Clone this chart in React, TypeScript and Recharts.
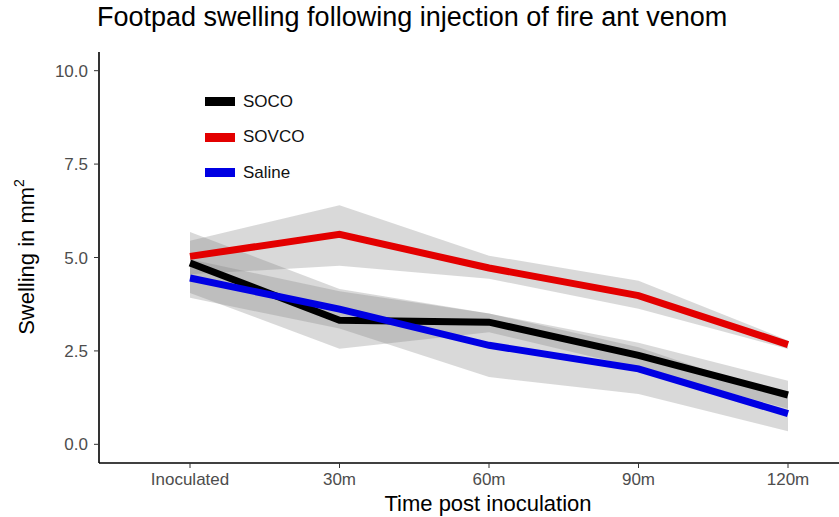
import React from "react";
import {
  ComposedChart,
  Line,
  Area,
  XAxis,
  YAxis,
  Label
} from "recharts";

// time points on the x axis
const times = ["Inoculated", "30m", "60m", "90m", "120m"];

// mean swelling per group
const soco = [4.85, 3.32, 3.27, 2.38, 1.32];
const sovco = [5.03, 5.62, 4.72, 3.98, 2.67];
const saline = [4.45, 3.62, 2.65, 2.02, 0.82];

// confidence ribbons (low / high)
const socoLow = [4.05, 2.56, 3.0, 2.05, 0.95];
const socoHigh = [5.68, 4.16, 3.5, 2.72, 1.7];
const sovcoLow = [4.55, 4.78, 4.43, 3.63, 2.55];
const sovcoHigh = [5.45, 6.4, 5.05, 4.38, 2.78];
const salineLow = [3.92, 3.1, 1.8, 1.35, 0.35];
const salineHigh = [4.95, 4.1, 3.5, 2.6, 1.25];

const yTicks = [0, 2.5, 5, 7.5, 10];

const groups = ["SOCO", "SOVCO", "Saline"];
const groupColors = ["#000000", "#e30000", "#0000e3"];

const FONT = '"Liberation Sans", Arial, Helvetica, sans-serif';

const data = times.map((t, i) => ({
  time: t,
  SOCO: soco[i],
  SOVCO: sovco[i],
  Saline: saline[i],
  socoBand: [socoLow[i], socoHigh[i]],
  sovcoBand: [sovcoLow[i], sovcoHigh[i]],
  salineBand: [salineLow[i], salineHigh[i]]
}));

const YTitle = () => (
  <text
    x={0}
    y={0}
    transform="translate(34, 257) rotate(-90)"
    textAnchor="middle"
    fontFamily={FONT}
    fontSize={22}
    fill="#000"
  >
    Swelling in mm
    <tspan fontSize={14} dy={-10}>
      2
    </tspan>
  </text>
);

// x title is centred on the full ggplot panel, which runs past the right edge
const XTitle = () => (
  <text
    x={488}
    y={511}
    textAnchor="middle"
    fontFamily={FONT}
    fontSize={22}
    fill="#000"
  >
    Time post inoculation
  </text>
);

export default function App() {
  return (
    <div
      style={{
        position: "absolute",
        left: 0,
        top: 0,
        width: 839,
        height: 517,
        background: "#fff",
        fontFamily: FONT
      }}
    >
      <div
        style={{
          position: "absolute",
          left: 97,
          top: 2,
          fontSize: 27,
          color: "#000",
          whiteSpace: "nowrap"
        }}
      >
        Footpad swelling following injection of fire ant venom
      </div>
      <ComposedChart
        width={839}
        height={517}
        data={data}
        margin={{ top: 52, right: 0, bottom: 0, left: 0 }}
      >
        <XAxis
          dataKey="time"
          type="category"
          scale="point"
          padding={{ left: 91, right: 51 }}
          axisLine={{ stroke: "#000", strokeWidth: 1.6 }}
          tickLine={{ stroke: "#333" }}
          tickSize={5}
          tickMargin={5}
          tick={{ fill: "#4d4d4d", fontSize: 17, fontFamily: FONT }}
          height={54}
        >
          <Label content={<XTitle />} />
        </XAxis>
        <YAxis
          type="number"
          domain={[-0.5, 10.5]}
          ticks={yTicks}
          tickFormatter={(v: number) => v.toFixed(1)}
          width={99}
          axisLine={{ stroke: "#000", strokeWidth: 1.6 }}
          tickLine={{ stroke: "#333" }}
          tickSize={5}
          tickMargin={6}
          tick={{ fill: "#4d4d4d", fontSize: 17, fontFamily: FONT }}
        >
          <Label content={<YTitle />} />
        </YAxis>
        <Area
          dataKey="socoBand"
          stroke="none"
          fill="#808080"
          fillOpacity={0.3}
          isAnimationActive={false}
          activeDot={false}
        />
        <Area
          dataKey="sovcoBand"
          stroke="none"
          fill="#808080"
          fillOpacity={0.3}
          isAnimationActive={false}
          activeDot={false}
        />
        <Area
          dataKey="salineBand"
          stroke="none"
          fill="#808080"
          fillOpacity={0.3}
          isAnimationActive={false}
          activeDot={false}
        />
        {groups.map((g, i) => (
          <Line
            key={g}
            dataKey={g}
            stroke={groupColors[i]}
            strokeWidth={7}
            dot={false}
            isAnimationActive={false}
          />
        ))}
      </ComposedChart>
      {/* legend inside the panel, top-left */}
      <div
        style={{
          position: "absolute",
          left: 205,
          top: 84,
          fontSize: 17,
          color: "#111"
        }}
      >
        {groups.map((g, i) => (
          <div
            key={g}
            style={{ display: "flex", alignItems: "center", height: 35.5 }}
          >
            <span
              style={{
                display: "inline-block",
                width: 30,
                height: 9,
                background: groupColors[i],
                marginRight: 8
              }}
            />
            <span>{g}</span>
          </div>
        ))}
      </div>
    </div>
  );
}
